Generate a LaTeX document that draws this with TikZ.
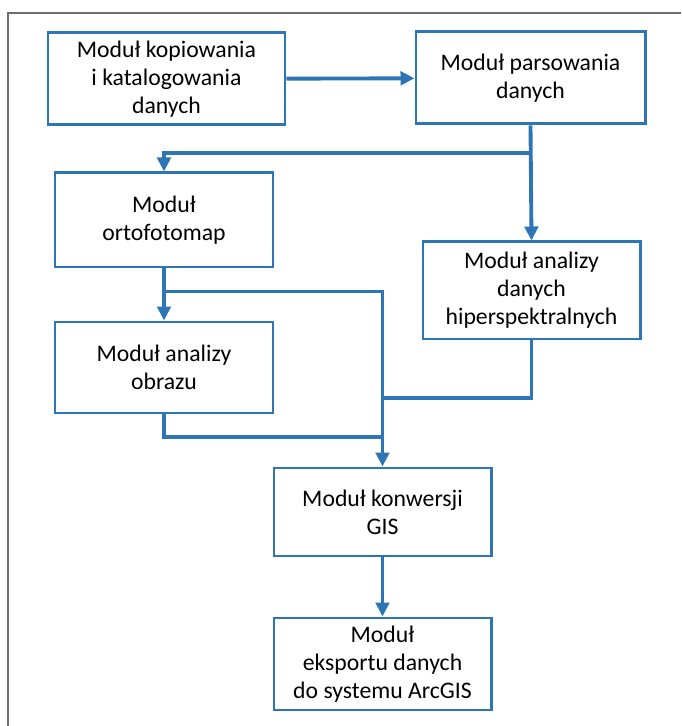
\documentclass[tikz,border=0pt]{standalone}
\usepackage{fontspec}
\setmainfont{Carlito}
\usetikzlibrary{arrows.meta, positioning}
\definecolor{modblue}{RGB}{46,117,182}
\definecolor{framegray}{RGB}{110,110,110}

\begin{document}
\begin{tikzpicture}[
    module/.style={rectangle, draw=modblue, line width=1.7pt, fill=white, text centered, align=center, font=\fontsize{13.5}{16}\selectfont},
    flow/.style={-{Triangle[length=0.28cm, width=0.27cm]}, draw=modblue, line width=2.2pt},
    merge/.style={draw=modblue, line width=2.2pt}
]

    % Frame
    \useasboundingbox (0,0) rectangle (13.62,14.52);
    \draw[framegray, line width=1.1pt] (0.16,0) -- (0.16,14.26) -- (13.62,14.26);

    % Modules
    \node[module, minimum width=4.74cm, minimum height=1.84cm] (copy) at (3.33, 12.94) {Moduł kopiowania\\i katalogowania\\danych};
    \node[module, minimum width=4.58cm, minimum height=1.84cm] (parse) at (10.61, 12.96) {Moduł parsowania\\danych};
    \node[module, minimum width=4.36cm, minimum height=1.88cm] (ortho) at (3.28, 10.12) {Moduł\\ortofotomap};
    \node[module, minimum width=4.34cm, minimum height=1.94cm] (hyper) at (10.63, 8.71) {Moduł analizy\\danych\\hiperspektralnych};
    \node[module, minimum width=4.36cm, minimum height=1.82cm] (image) at (3.28, 7.17) {Moduł analizy\\obrazu};
    \node[module, minimum width=4.34cm, minimum height=1.76cm] (gis) at (7.65, 4.28) {Moduł konwersji\\GIS};
    \node[module, minimum width=4.34cm, minimum height=1.84cm] (export) at (7.65, 1.24) {Moduł\\eksportu danych\\do systemu ArcGIS};

    % Junctions
    \coordinate (fromHyper) at (gis.north |- 0, 6.56);
    \coordinate (fromImage) at (gis.north |- 0, 5.78);

    % Connections
    \draw[flow] (copy) -- (parse);
    \draw[flow] (parse.south) -- (hyper.north);
    \draw[flow] (parse.south) ++(0,-0.55) -| (ortho.north);
    \draw[flow] (ortho.south) -- (image.north);
    \draw[flow] (ortho.south) ++(0,-0.46) -| (gis.north);
    \draw[merge] (hyper.south) |- (fromHyper);
    \draw[merge] (image.south) |- (fromImage);
    \draw[flow] (gis.south) -- (export.north);

\end{tikzpicture}
\end{document}
